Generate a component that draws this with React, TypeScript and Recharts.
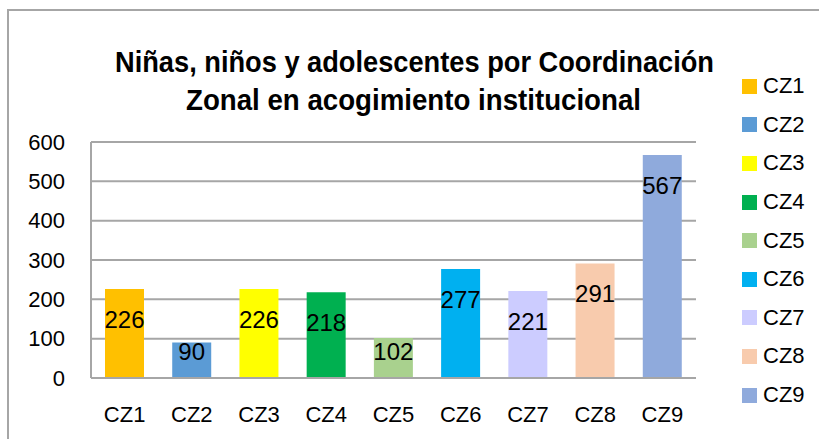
import React from "react"
import { BarChart, Bar, XAxis, YAxis, CartesianGrid, Cell, LabelList, Legend } from "recharts"

const zones = ["CZ1", "CZ2", "CZ3", "CZ4", "CZ5", "CZ6", "CZ7", "CZ8", "CZ9"]
const counts = [226, 90, 226, 218, 102, 277, 221, 291, 567]
const colors = ["#FFC000", "#5B9BD5", "#FFFF00", "#00B050", "#A9D18E", "#00B0F0", "#CCCCFF", "#F8CBAD", "#8FAADC"]
const yTicks = [0, 100, 200, 300, 400, 500, 600]
const titleLines = ["Niñas, niños y adolescentes por Coordinación", "Zonal en acogimiento institucional"]

const FONT = "'Liberation Sans', Arial, sans-serif"

const data = zones.map((z, i) => ({ zone: z, value: counts[i] }))

// label sits ~30px under the bar top, but never lower than ~27px above the base
function ValueLabel(props: any) {
  const { x, y, width, height, value } = props
  const cy = Math.min(y + 30, y + height - 27)
  return (
    <text x={x + width / 2} y={cy} dy="0.36em" textAnchor="middle" fontSize={24} fontFamily={FONT} fill="#000">
      {value}
    </text>
  )
}

function ZoneLegend() {
  return (
    <div style={{ fontFamily: FONT }}>
      {zones.map((z, i) => (
        <div key={z} style={{ height: 38.6, display: "flex", alignItems: "center" }}>
          <span style={{ width: 15, height: 15, background: colors[i], display: "inline-block", marginRight: 6 }} />
          <span style={{ fontSize: 22, color: "#000" }}>{z}</span>
        </div>
      ))}
    </div>
  )
}

export default function App() {
  return (
    <div style={{ position: "absolute", left: 0, top: 0, width: 819, height: 439, background: "#fff", overflow: "hidden" }}>
      <div style={{ position: "absolute", left: 7, top: 9, width: 830, height: 450, border: "2px solid #a6a6a6", boxSizing: "border-box" }} />
      <svg width={819} height={130} style={{ position: "absolute", left: 0, top: 0 }}>
        <text x={414.5} y={62} dy="0.36em" textAnchor="middle" fontFamily={FONT} fontWeight="bold" fontSize={29}
          textLength={599} lengthAdjust="spacingAndGlyphs">{titleLines[0]}</text>
        <text x={413.5} y={100} dy="0.36em" textAnchor="middle" fontFamily={FONT} fontWeight="bold" fontSize={29}
          textLength={455} lengthAdjust="spacingAndGlyphs">{titleLines[1]}</text>
      </svg>
      <div style={{ position: "absolute", left: 0, top: 0 }}>
        <BarChart width={819} height={439} data={data} margin={{ top: 142, right: 123, bottom: 0, left: 0 }}>
          <CartesianGrid vertical={false} stroke="#a6a6a6" strokeWidth={2} />
          <XAxis
            dataKey="zone"
            height={61}
            axisLine={{ stroke: "#a6a6a6", strokeWidth: 2 }}
            tickLine={false}
            tickSize={0}
            tickMargin={28}
            tick={{ fontSize: 22, fontFamily: FONT, fill: "#000" }}
            interval={0}
          />
          <YAxis
            width={91}
            domain={[0, 600]}
            ticks={yTicks}
            axisLine={{ stroke: "#a6a6a6", strokeWidth: 2 }}
            tickLine={false}
            tickSize={0}
            tickMargin={26}
            tick={{ fontSize: 22, fontFamily: FONT, fill: "#000" }}
          />
          <Legend
            layout="horizontal"
            verticalAlign="middle"
            align="center"
            content={() => <ZoneLegend />}
            wrapperStyle={{ left: 742, top: 67, width: 80, height: "auto" }}
          />
          <Bar dataKey="value" barSize={39} isAnimationActive={false}>
            {data.map((d, i) => (
              <Cell key={d.zone} fill={colors[i]} />
            ))}
            <LabelList dataKey="value" content={ValueLabel} />
          </Bar>
        </BarChart>
      </div>
    </div>
  )
}
